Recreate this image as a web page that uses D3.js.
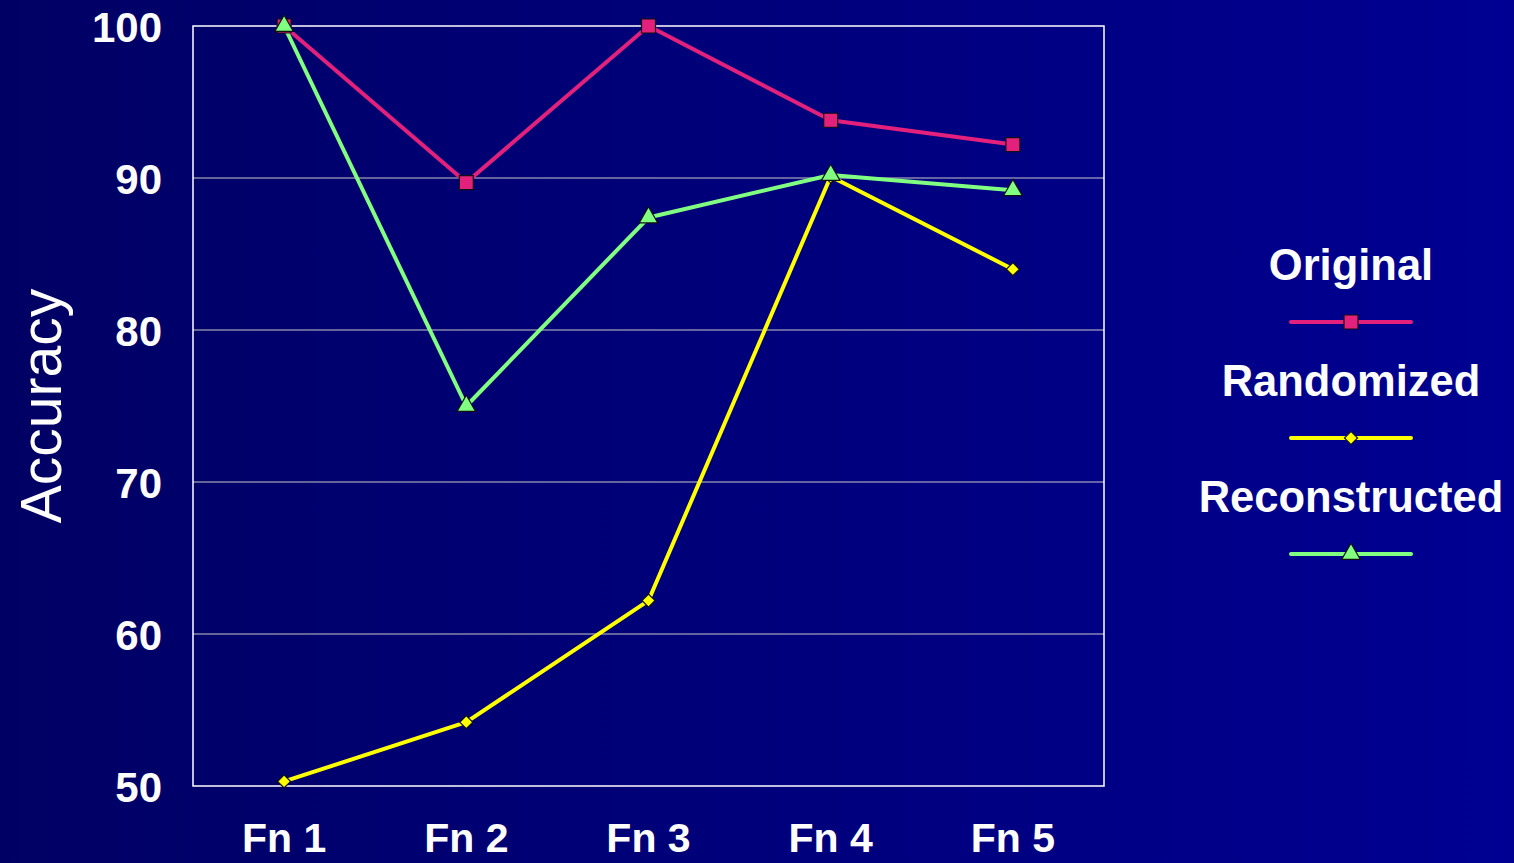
<!DOCTYPE html>
<meta charset="utf-8">
<script src="https://d3js.org/d3.v7.min.js"></script>
<style>
	body{ margin:0; overflow:hidden; }
	text{ font-family:"Liberation Sans", Arial, sans-serif; fill:#fff; }
</style>
<div id="chart"></div>
<script>

// categories + series
var categories = ["Fn 1","Fn 2","Fn 3","Fn 4","Fn 5"]
var original = [100, 89.7, 100, 93.8, 92.2]
var randomized = [50.3, 54.2, 62.2, 90.1, 84.0]
var reconstructed = [100, 75.0, 87.4, 90.2, 89.2]
var yTicks = [50, 60, 70, 80, 90, 100]
var seriesNames = ["Original","Randomized","Reconstructed"]

var colors = ["#E3207C","#FFFF00","#80FF80"]
var symbols = [d3.symbolSquare, d3.symbolSquare, d3.symbolTriangle]
var symSize = [196, 85, 150]
var symRot = [0, 45, 0]

const W = 1514, H = 863
const margin = {top: 26, right: 410, bottom: 77, left: 193},
    width = W - margin.left - margin.right,
    height = H - margin.top - margin.bottom;

const root = d3.select("#chart").append("svg")
	.attr("width", W).attr("height", H)

// background gradient, dark navy -> brighter blue
var grad = root.append("defs").append("linearGradient").attr("id","bg")
	.attr("x1","0").attr("x2","1").attr("y1","0").attr("y2","0")
grad.append("stop").attr("offset","0").attr("stop-color","#000064")
grad.append("stop").attr("offset","1").attr("stop-color","#000092")
root.append("rect").attr("width",W).attr("height",H).attr("fill","url(#bg)")

const svg = root.append("g")
	.attr("transform", `translate(${margin.left},${margin.top})`);

var xScale = d3.scaleBand().domain(categories).range([0,width])
var yScale = d3.scaleLinear().domain([50,100]).range([height,0])

// grid lines
svg.selectAll(".grid").data(yTicks.slice(1,-1)).join("line")
	.attr("x1",0).attr("x2",width)
	.attr("y1",d=>yScale(d)).attr("y2",d=>yScale(d))
	.attr("stroke","#c8c8c8").attr("stroke-width",1.2)

// plot frame
svg.append("rect").attr("width",width).attr("height",height)
	.attr("fill","none").attr("stroke","#fff").attr("stroke-width",1.5)

// y axis labels
var yAxis = d3.axisLeft(yScale).tickValues(yTicks).tickSize(0).tickPadding(31)
var yg = svg.append("g").call(yAxis)
yg.select(".domain").remove()
yg.selectAll("text").style("font-size","42px").style("font-weight","bold")
	.attr("fill","#fff").attr("dy","0.36em")

// x axis labels, close to the bottom edge like the slide
var xAxis = d3.axisBottom(xScale).tickSize(0).tickPadding(0)
var xg = svg.append("g").attr("transform",`translate(0,${height})`).call(xAxis)
xg.select(".domain").remove()
xg.selectAll("text").style("font-size","41px").style("font-weight","bold")
	.attr("fill","#fff").attr("y",66).attr("dy",0)

// y title
root.append("text")
	.attr("transform","translate(61,406) rotate(-90)")
	.attr("text-anchor","middle")
	.style("font-size","57px")
	.text("Accuracy")

var allSeries = [original, randomized, reconstructed]
var line = d3.line()
	.x((d,i) => xScale(categories[i]) + xScale.bandwidth()/2)
	.y(d => yScale(d))

allSeries.forEach(function(vals, k){
	svg.append("path").datum(vals)
		.attr("fill","none").attr("stroke",colors[k]).attr("stroke-width",4)
		.attr("stroke-linejoin","round")
		.attr("d", line)
})
// markers drawn after lines so they sit on top
allSeries.forEach(function(vals, k){
	svg.selectAll(".m"+k).data(vals).join("path")
		.attr("transform",(d,i)=>`translate(${xScale(categories[i]) + xScale.bandwidth()/2},${yScale(d)}) rotate(${symRot[k]})`)
		.attr("d", d3.symbol().type(symbols[k]).size(symSize[k]))
		.attr("fill",colors[k]).attr("stroke","#111").attr("stroke-width",1.2)
})

// legend
var legendX = 1351
seriesNames.forEach(function(name, k){
	var ty = 264 + k*116
	root.append("text").attr("x",legendX).attr("y",ty).attr("dy","0.36em")
		.attr("text-anchor","middle")
		.style("font-size","43.5px").style("font-weight","bold")
		.text(name)
	var ly = ty + 58
	root.append("line").attr("x1",legendX-60).attr("x2",legendX+60)
		.attr("y1",ly).attr("y2",ly)
		.attr("stroke",colors[k]).attr("stroke-width",4).attr("stroke-linecap","round")
	root.append("path").attr("transform",`translate(${legendX},${ly}) rotate(${symRot[k]})`)
		.attr("d", d3.symbol().type(symbols[k]).size(symSize[k]))
		.attr("fill",colors[k]).attr("stroke","#111").attr("stroke-width",1.2)
})

</script>
